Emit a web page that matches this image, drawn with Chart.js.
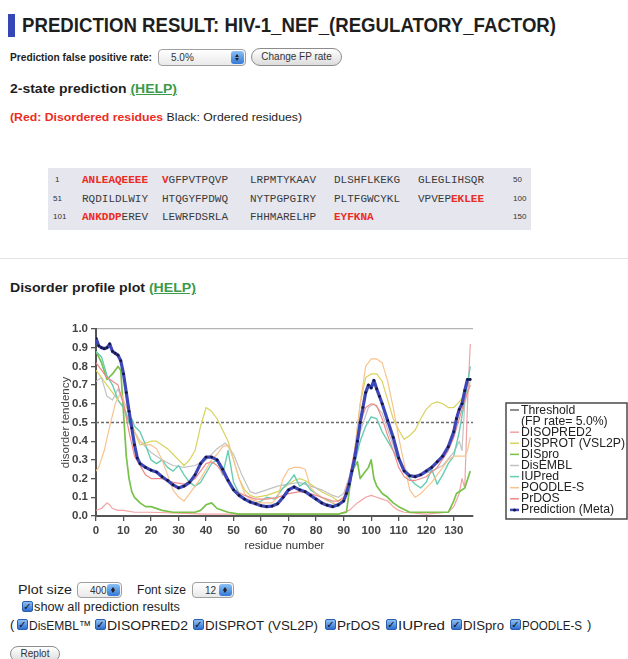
<!DOCTYPE html>
<html lang="en"><head><meta charset="utf-8"><title>Prediction result: HIV-1_NEF_(REGULATORY_FACTOR)</title>
<script src="https://cdn.jsdelivr.net/npm/chart.js@4.4.1/dist/chart.umd.min.js"></script>
<style>
html,body{margin:0;padding:0;background:#fff}
body{position:relative;width:628px;height:659px;overflow:hidden;font-family:"Liberation Sans",Arial,Helvetica,sans-serif;color:#1e1e1e}
.t{position:absolute;white-space:nowrap;transform-origin:0 50%}
.bold{font-weight:bold}
.help{color:#3c9a48;text-decoration:underline}
.red{color:#ec2c24;font-weight:bold}
.sel{position:absolute;box-sizing:border-box;border:1px solid #a0a0a0;border-radius:4px;background:linear-gradient(#fff,#e9e9e9);font-size:10px;color:#333}
.sel span{position:absolute;left:12px;top:2px}
.sel i{position:absolute;right:1px;top:1px;bottom:1px;width:13px;border-radius:3px;background:linear-gradient(#8cc0f4,#3479d8)}
.sel i:before,.sel i:after{content:"";position:absolute;left:4px;border-left:2.5px solid transparent;border-right:2.5px solid transparent}
.sel i:before{top:3px;border-bottom:3px solid #222}
.sel i:after{bottom:3px;border-top:3px solid #222}
.btn{position:absolute;box-sizing:border-box;border:1px solid #8c8c8c;border-radius:9px;background:linear-gradient(#fff,#dcdcdc);font-size:10px;color:#333;text-align:center}
.cb{position:absolute;width:11px;height:11px;box-sizing:border-box;border-radius:2px;border:1px solid #2d5fb0;background:linear-gradient(#8fc0f5,#2f6fd2);color:#111;font:bold 10px/9px "DejaVu Sans",sans-serif;text-align:center}
#seq{position:absolute;left:48px;top:168px;width:483px;height:62px;background:#e6e6ee}
.seq{position:absolute;font:11px/14px "Liberation Mono","DejaVu Sans Mono",monospace;color:#3a3a3a;white-space:pre}
.num{position:absolute;font:8px/10px "Liberation Sans",Arial,sans-serif;color:#333}
</style></head>
<body>
<div style="position:absolute;left:8px;top:14px;width:7px;height:23px;background:#3447b4"></div>
<div class="t bold" data-w="534" style="left:22px;top:13px;font-size:21px;line-height:24px">PREDICTION RESULT: HIV-1_NEF_(REGULATORY_FACTOR)</div>
<div class="t bold" data-w="142" style="left:10px;top:50px;font-size:11px;line-height:14px">Prediction false positive rate:</div>
<div class="sel" style="left:158px;top:49px;width:88px;height:17px"><span>5.0%</span><i></i></div>
<div class="btn" style="left:251px;top:48px;width:91px;height:18px;line-height:16px">Change FP rate</div>
<div class="t bold" data-w="167" style="left:10px;top:81px;font-size:13px;line-height:16px">2-state prediction <span class="help">(HELP)</span></div>
<div class="t" data-w="292" style="left:10px;top:110px;font-size:11px;line-height:14px"><span class="red">(Red: Disordered residues</span> Black: Ordered residues)</div>
<div id="seq"></div>
<div style="position:absolute;left:0;top:258px;width:628px;height:1px;background:#e4e4e4"></div>
<div class="t bold" data-w="186" style="left:10px;top:280px;font-size:13px;line-height:16px">Disorder profile plot <span class="help">(HELP)</span></div>
<canvas id="plot" width="588" height="250" style="position:absolute;left:40px;top:310px"></canvas>

<div class="t" data-w="54" style="left:18px;top:583px;font-size:12px;line-height:14px">Plot size</div>
<div class="sel" style="left:77px;top:582px;width:45px;height:16px"><span>400</span><i></i></div>
<div class="t" data-w="49" style="left:137px;top:583px;font-size:12px;line-height:14px">Font size</div>
<div class="sel" style="left:192px;top:582px;width:42px;height:16px"><span>12</span><i></i></div>
<div class="cb" style="left:22px;top:601px">✓</div>
<div class="t" data-w="146" style="left:34px;top:600px;font-size:12px;line-height:14px">show all prediction results</div>
<div class="t" style="left:10px;top:617px;font-size:13px;line-height:15px">(</div>
<div class="cb" style="left:17px;top:619px">✓</div>
<div class="t" data-w="62" style="left:29px;top:618px;font-size:13px;line-height:15px">DisEMBL™</div>
<div class="cb" style="left:95px;top:619px">✓</div>
<div class="t" data-w="81" style="left:107px;top:618px;font-size:13px;line-height:15px">DISOPRED2</div>
<div class="cb" style="left:193px;top:619px">✓</div>
<div class="t" data-w="113" style="left:205px;top:618px;font-size:13px;line-height:15px">DISPROT (VSL2P)</div>
<div class="cb" style="left:325px;top:619px">✓</div>
<div class="t" data-w="43" style="left:337px;top:618px;font-size:13px;line-height:15px">PrDOS</div>
<div class="cb" style="left:386px;top:619px">✓</div>
<div class="t" data-w="47" style="left:398px;top:618px;font-size:13px;line-height:15px">IUPred</div>
<div class="cb" style="left:451px;top:619px">✓</div>
<div class="t" data-w="41" style="left:463px;top:618px;font-size:13px;line-height:15px">DISpro</div>
<div class="cb" style="left:510px;top:619px">✓</div>
<div class="t" data-w="60" style="left:522px;top:618px;font-size:13px;line-height:15px">POODLE-S</div>
<div class="t" style="left:587px;top:617px;font-size:13px;line-height:15px">)</div>
<div class="btn" style="left:10px;top:646px;width:50px;height:16px;line-height:14px">Replot</div>

<script>
// ---- sequence panel ----
const SEQUENCE = "ANLEAQEEEEVGFPVTPQVPLRPMTYKAAVDLSHFLKEKGGLEGLIHSQR" +
                 "RQDILDLWIYHTQGYFPDWQNYTPGPGIRYPLTFGWCYKLVPVEPEKLEE" +
                 "ANKDDPEREVLEWRFDSRLAFHHMARELHPEYFKNA";
const DISORDERED_RANGES = [[1, 11], [96, 106], [131, 136]];

// ---- disorder scores: [residue, score] ----
const THRESHOLD = 0.5;
const DISOPRED2 = [[0,.03],[2,.04],[4,.07],[5,.06],[6,.04],[8,.03],[10,.03],[14,.02],[20,.02],[40,.01],[60,.01],[80,.01],[88,.01],[92,.03],[95,.07],[98,.10],[100,.11],[102,.10],[104,.09],[106,.08],[108,.05],[110,.03],[112,.02],[120,.01],[128,.02],[130,.05],[132,.12],[133,.20],[134,.15],[135,.60],[136,.92]];
const DISPROT = [[0,.78],[2,.74],[4,.70],[6,.66],[8,.62],[10,.58],[12,.52],[14,.45],[16,.38],[18,.39],[20,.40],[22,.40],[24,.38],[26,.36],[28,.33],[30,.30],[32,.27],[34,.30],[36,.35],[38,.48],[40,.58],[42,.56],[44,.52],[46,.46],[48,.40],[50,.30],[52,.20],[54,.14],[56,.11],[58,.10],[62,.11],[66,.13],[70,.17],[72,.19],[74,.20],[76,.19],[78,.17],[82,.13],[86,.10],[88,.08],[90,.09],[92,.14],[94,.35],[96,.60],[98,.74],[100,.76],[102,.76],[104,.72],[106,.62],[108,.52],[110,.46],[112,.41],[114,.43],[116,.46],[118,.52],[120,.57],[122,.60],[124,.61],[126,.60],[128,.58],[130,.58],[132,.61],[134,.65],[136,.70]];
const DISPRO = [[0,.88],[2,.82],[4,.73],[6,.76],[8,.80],[9,.78],[10,.55],[11,.32],[12,.20],[13,.13],[14,.10],[16,.07],[18,.05],[20,.05],[24,.03],[28,.02],[32,.02],[36,.02],[38,.03],[40,.06],[42,.07],[44,.04],[48,.02],[52,.01],[60,.01],[70,.01],[80,.01],[88,.01],[91,.02],[93,.24],[95,.29],[96,.20],[98,.24],[99,.26],[100,.30],[101,.20],[102,.16],[104,.12],[106,.10],[108,.07],[110,.05],[114,.02],[120,.02],[128,.02],[130,.08],[131,.12],[132,.13],[134,.15],[136,.24]];
const DISEMBL = [[0,.72],[2,.74],[4,.64],[6,.62],[8,.68],[10,.60],[12,.50],[14,.45],[16,.40],[18,.37],[20,.34],[24,.30],[28,.27],[32,.26],[36,.27],[40,.30],[44,.36],[47,.39],[50,.33],[53,.22],[56,.13],[58,.12],[62,.14],[66,.16],[70,.17],[74,.18],[78,.16],[82,.14],[86,.11],[88,.10],[90,.12],[93,.25],[96,.45],[99,.58],[101,.60],[104,.55],[107,.42],[110,.30],[114,.22],[118,.22],[122,.24],[126,.27],[130,.34],[132,.40],[133,.35],[134,.60],[136,.72]];
const IUPRED = [[0,.88],[2,.85],[4,.75],[6,.70],[8,.62],[10,.58],[12,.50],[13,.52],[14,.48],[16,.45],[18,.38],[20,.30],[22,.28],[24,.30],[26,.26],[28,.24],[30,.27],[32,.22],[34,.18],[36,.16],[38,.18],[40,.23],[42,.28],[44,.30],[46,.22],[48,.35],[50,.18],[52,.12],[55,.08],[58,.07],[60,.08],[62,.10],[65,.09],[68,.15],[70,.18],[72,.22],[74,.16],[76,.18],[78,.14],[82,.10],[86,.07],[88,.05],[90,.08],[92,.17],[94,.28],[96,.40],[98,.48],[100,.53],[102,.52],[104,.45],[106,.40],[108,.35],[110,.30],[112,.24],[114,.20],[116,.17],[118,.15],[120,.18],[122,.25],[124,.17],[126,.22],[128,.28],[130,.32],[132,.45],[134,.62],[136,.80]];
const POODLE_S = [[0,.24],[1,.26],[3,.35],[5,.48],[7,.60],[9,.66],[10,.62],[12,.55],[14,.45],[16,.40],[18,.38],[20,.38],[22,.36],[24,.30],[26,.22],[28,.14],[30,.10],[32,.08],[34,.12],[36,.16],[38,.20],[40,.25],[42,.30],[44,.33],[46,.37],[48,.38],[50,.30],[52,.20],[54,.12],[56,.09],[60,.07],[64,.07],[66,.10],[68,.20],[70,.25],[72,.26],[74,.26],[76,.25],[78,.15],[80,.12],[84,.08],[88,.06],[90,.08],[92,.15],[94,.35],[96,.60],[98,.80],[100,.84],[102,.84],[104,.82],[106,.72],[108,.58],[110,.42],[112,.28],[114,.14],[116,.10],[118,.12],[120,.15],[122,.18],[124,.22],[126,.26],[128,.30],[130,.32],[132,.32],[134,.32],[135,.35],[136,.42]];
const PRDOS = [[0,.82],[2,.78],[4,.74],[6,.72],[8,.70],[10,.60],[12,.45],[14,.32],[16,.27],[18,.22],[20,.20],[24,.20],[28,.18],[32,.17],[36,.20],[38,.24],[40,.28],[42,.29],[44,.27],[46,.23],[48,.18],[50,.14],[54,.11],[58,.09],[62,.09],[66,.10],[70,.12],[74,.13],[78,.12],[82,.10],[86,.08],[88,.08],[90,.10],[92,.20],[94,.35],[96,.50],[98,.58],[100,.60],[102,.59],[104,.52],[106,.43],[108,.35],[110,.26],[112,.21],[114,.19],[116,.19],[120,.21],[124,.26],[128,.35],[130,.42],[132,.52],[134,.62],[136,.70]];
const META = [[0,.95],[1,.91],[2,.90],[3,.895],[4,.90],[5,.92],[6,.88],[7,.87],[8,.86],[9,.83],[10,.76],[11,.66],[12,.56],[13,.47],[14,.38],[15,.31],[16,.28],[18,.26],[20,.245],[22,.235],[24,.21],[26,.19],[28,.166],[30,.15],[32,.16],[34,.18],[36,.22],[38,.28],[40,.315],[42,.315],[44,.30],[46,.25],[48,.19],[50,.14],[52,.11],[54,.09],[56,.075],[58,.065],[60,.055],[62,.05],[64,.053],[66,.065],[68,.10],[70,.14],[72,.155],[74,.14],[76,.13],[78,.11],[80,.09],[82,.07],[84,.058],[86,.05],[88,.06],[90,.08],[91,.12],[92,.17],[93,.24],[94,.31],[95,.40],[96,.50],[97,.58],[98,.66],[99,.70],[100,.685],[101,.725],[102,.68],[103,.64],[104,.60],[106,.51],[108,.42],[110,.31],[112,.24],[114,.215],[116,.21],[118,.22],[120,.24],[122,.26],[124,.29],[126,.32],[128,.37],[130,.45],[131,.52],[132,.57],[133,.60],[134,.67],[135,.73],[136,.73]];
const LAST_RESIDUE = 137;

// ---- build the coloured sequence rows ----
(function buildSequence(){
  const box = document.getElementById('seq');
  const blockX = [34, 114, 202, 286, 370];
  const rowTop = [5, 24, 42];
  const isDis = i => DISORDERED_RANGES.some(([a, b]) => i >= a && i <= b);
  for (let r = 0; r < 3; r++) {
    const n1 = document.createElement('div');
    n1.className = 'num'; n1.style.left = (r ? 5 : 7) + 'px'; n1.style.top = (rowTop[r] + 2) + 'px';
    n1.textContent = r * 50 + 1; box.appendChild(n1);
    const n2 = document.createElement('div');
    n2.className = 'num'; n2.style.left = '465px'; n2.style.top = (rowTop[r] + 2) + 'px';
    n2.textContent = (r + 1) * 50; box.appendChild(n2);
    for (let b = 0; b < 5; b++) {
      const start = r * 50 + b * 10;
      if (start >= SEQUENCE.length) break;
      const el = document.createElement('div');
      el.className = 'seq'; el.style.left = blockX[b] + 'px'; el.style.top = rowTop[r] + 'px';
      let html = '', run = '', runDis = null;
      const flush = () => { if (run) html += runDis ? '<span class="red">' + run + '</span>' : run; run = ''; };
      for (let k = start; k < Math.min(start + 10, SEQUENCE.length); k++) {
        const d = isDis(k + 1);
        if (d !== runDis) { flush(); runDis = d; }
        run += SEQUENCE[k];
      }
      flush();
      el.innerHTML = html; box.appendChild(el);
    }
  }
})();

// ---- narrow text to its box width ----
document.querySelectorAll('[data-w]').forEach(el => {
  const w = el.getBoundingClientRect().width;
  el.style.transform = 'scaleX(' + (+el.dataset.w / w).toFixed(4) + ')';
});

// ---- legend in a framed box beside the plot ----
const legendBox = {
  id: 'legendBox',
  afterDraw(chart) {
    const { ctx, chartArea } = chart;
    const left = chartArea.right + 33, top = 93, width = 121, height = 116;
    ctx.save();
    ctx.fillStyle = '#fff';
    ctx.fillRect(left, top, width, height);
    ctx.strokeStyle = '#4a4a4a'; ctx.lineWidth = 1.5; ctx.setLineDash([]);
    ctx.strokeRect(left, top, width, height);
    ctx.font = '13px "Liberation Sans", Arial, sans-serif';
    ctx.textBaseline = 'middle';
    const sx = Math.min(1, 104 / ctx.measureText('DISPROT (VSL2P)').width);
    let y = top + 7;
    chart.data.datasets.forEach(ds => {
      ctx.strokeStyle = ds.borderColor;
      ctx.lineWidth = ds.legendWidth || 1.5;
      ctx.beginPath(); ctx.moveTo(left + 4, y); ctx.lineTo(left + 13, y); ctx.stroke();
      if (ds.pointRadius) {
        ctx.fillStyle = ds.pointBackgroundColor;
        ctx.beginPath(); ctx.arc(left + 8.5, y, 1.5, 0, Math.PI * 2); ctx.fill();
      }
      [].concat(ds.label).forEach(text => {
        ctx.save(); ctx.translate(left + 15, y); ctx.scale(sx, 1);
        ctx.fillStyle = '#222'; ctx.fillText(text, 0, 0); ctx.restore();
        y += 11.1;
      });
    });
    ctx.restore();
  }
};

const pts = arr => arr.map(([x, y]) => ({ x, y }));
const thin = (label, data, color, order, w) => ({ label, data: pts(data), borderColor: color, borderWidth: w || 1.2, pointRadius: 0, order });

new Chart(document.getElementById('plot'), {
  type: 'line',
  data: {
    datasets: [
      { label: ['Threshold', '(FP rate= 5.0%)'], data: [{ x: 0, y: THRESHOLD }, { x: LAST_RESIDUE, y: THRESHOLD }],
        borderColor: '#6a6a6a', borderWidth: 1.3, borderDash: [3, 2], pointRadius: 0, order: 9 },
      thin('DISOPRED2', DISOPRED2, '#f3a2a2', 8),
      thin('DISPROT (VSL2P)', DISPROT, '#d9d35e', 7),
      thin('DISpro', DISPRO, '#78c24a', 6, 1.7),
      thin('DisEMBL', DISEMBL, '#c2c2c2', 5),
      thin('IUPred', IUPRED, '#66ccb2', 4, 1.4),
      thin('POODLE-S', POODLE_S, '#f8c48e', 3),
      thin('PrDOS', PRDOS, '#f08a8a', 2),
      { label: 'Prediction (Meta)', data: pts(META), borderColor: '#3d47b8', borderWidth: 3.2,
        pointRadius: 1.4, pointBorderWidth: 0, pointBackgroundColor: '#16163c', legendWidth: 2.5, order: 0 }
    ]
  },
  options: {
    responsive: false, animation: false, devicePixelRatio: 1,
    layout: { padding: { top: 19, right: 155, bottom: 0, left: 0 } },
    elements: { line: { tension: 0, borderJoinStyle: 'round' } },
    plugins: { legend: { display: false }, tooltip: { enabled: false } },
    scales: {
      x: {
        type: 'linear', min: 0, max: LAST_RESIDUE,
        afterFit(s) { s.height = 44; },
        afterBuildTicks(s) { s.ticks = s.ticks.filter(t => t.value % 10 === 0); },
        ticks: { stepSize: 10, includeBounds: false, autoSkip: false, maxRotation: 0, color: '#444',
                 font: { family: '"Liberation Sans", Arial, sans-serif', size: 11.5, weight: 'bold' } },
        grid: { drawOnChartArea: false, tickColor: '#555', lineWidth: 1.3, tickLength: 5 },
        border: { color: '#555', width: 2 },
        title: { display: true, text: 'residue number', color: '#333', padding: { top: 0, bottom: 7 },
                 font: { family: '"Liberation Sans", Arial, sans-serif', size: 11.5 } }
      },
      y: {
        min: 0, max: 1,
        afterFit(s) { s.width = 56; },
        ticks: { stepSize: 0.1, color: '#444', callback: v => v.toFixed(1),
                 font: { family: '"Liberation Sans", Arial, sans-serif', size: 11.5, weight: 'bold' } },
        grid: { drawOnChartArea: true, tickColor: '#555', lineWidth: 1.3, tickLength: 5,
                color: c => Math.abs(c.tick.value - 1) < 1e-9 ? '#b4b4b4' : 'rgba(0,0,0,0)' },
        border: { color: '#555', width: 2 },
        title: { display: true, text: 'disorder tendency', color: '#444', padding: { top: 19, bottom: 0 },
                 font: { family: '"Liberation Sans", Arial, sans-serif', size: 11.5 } }
      }
    }
  },
  plugins: [legendBox]
});
</script>
</body></html>
